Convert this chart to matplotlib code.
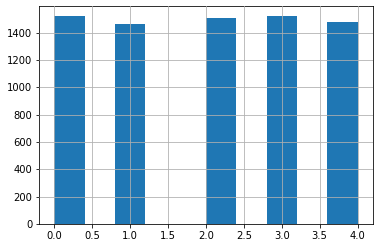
import matplotlib
matplotlib.use("Agg")
import matplotlib.pyplot as plt

values = [0, 1, 2, 3, 4]
counts = [1519, 1461, 1505, 1519, 1476]

plt.rcParams['font.size'] = 10
fig = plt.figure(figsize=(381/72, 248/72), dpi=72)
ax = fig.add_axes([39.3/381, 24/248, (372.7-39.3)/381, 218/248])
ax.hist(values, bins=10, weights=counts, color='#1f77b4')
ax.grid(True, color='#b0b0b0', linewidth=0.8)
ax.set_axisbelow(False)
ax.set_xticks([0.0, 0.5, 1.0, 1.5, 2.0, 2.5, 3.0, 3.5, 4.0])
ax.set_yticks([0, 200, 400, 600, 800, 1000, 1200, 1400])
fig.savefig("out.png", dpi=72)
